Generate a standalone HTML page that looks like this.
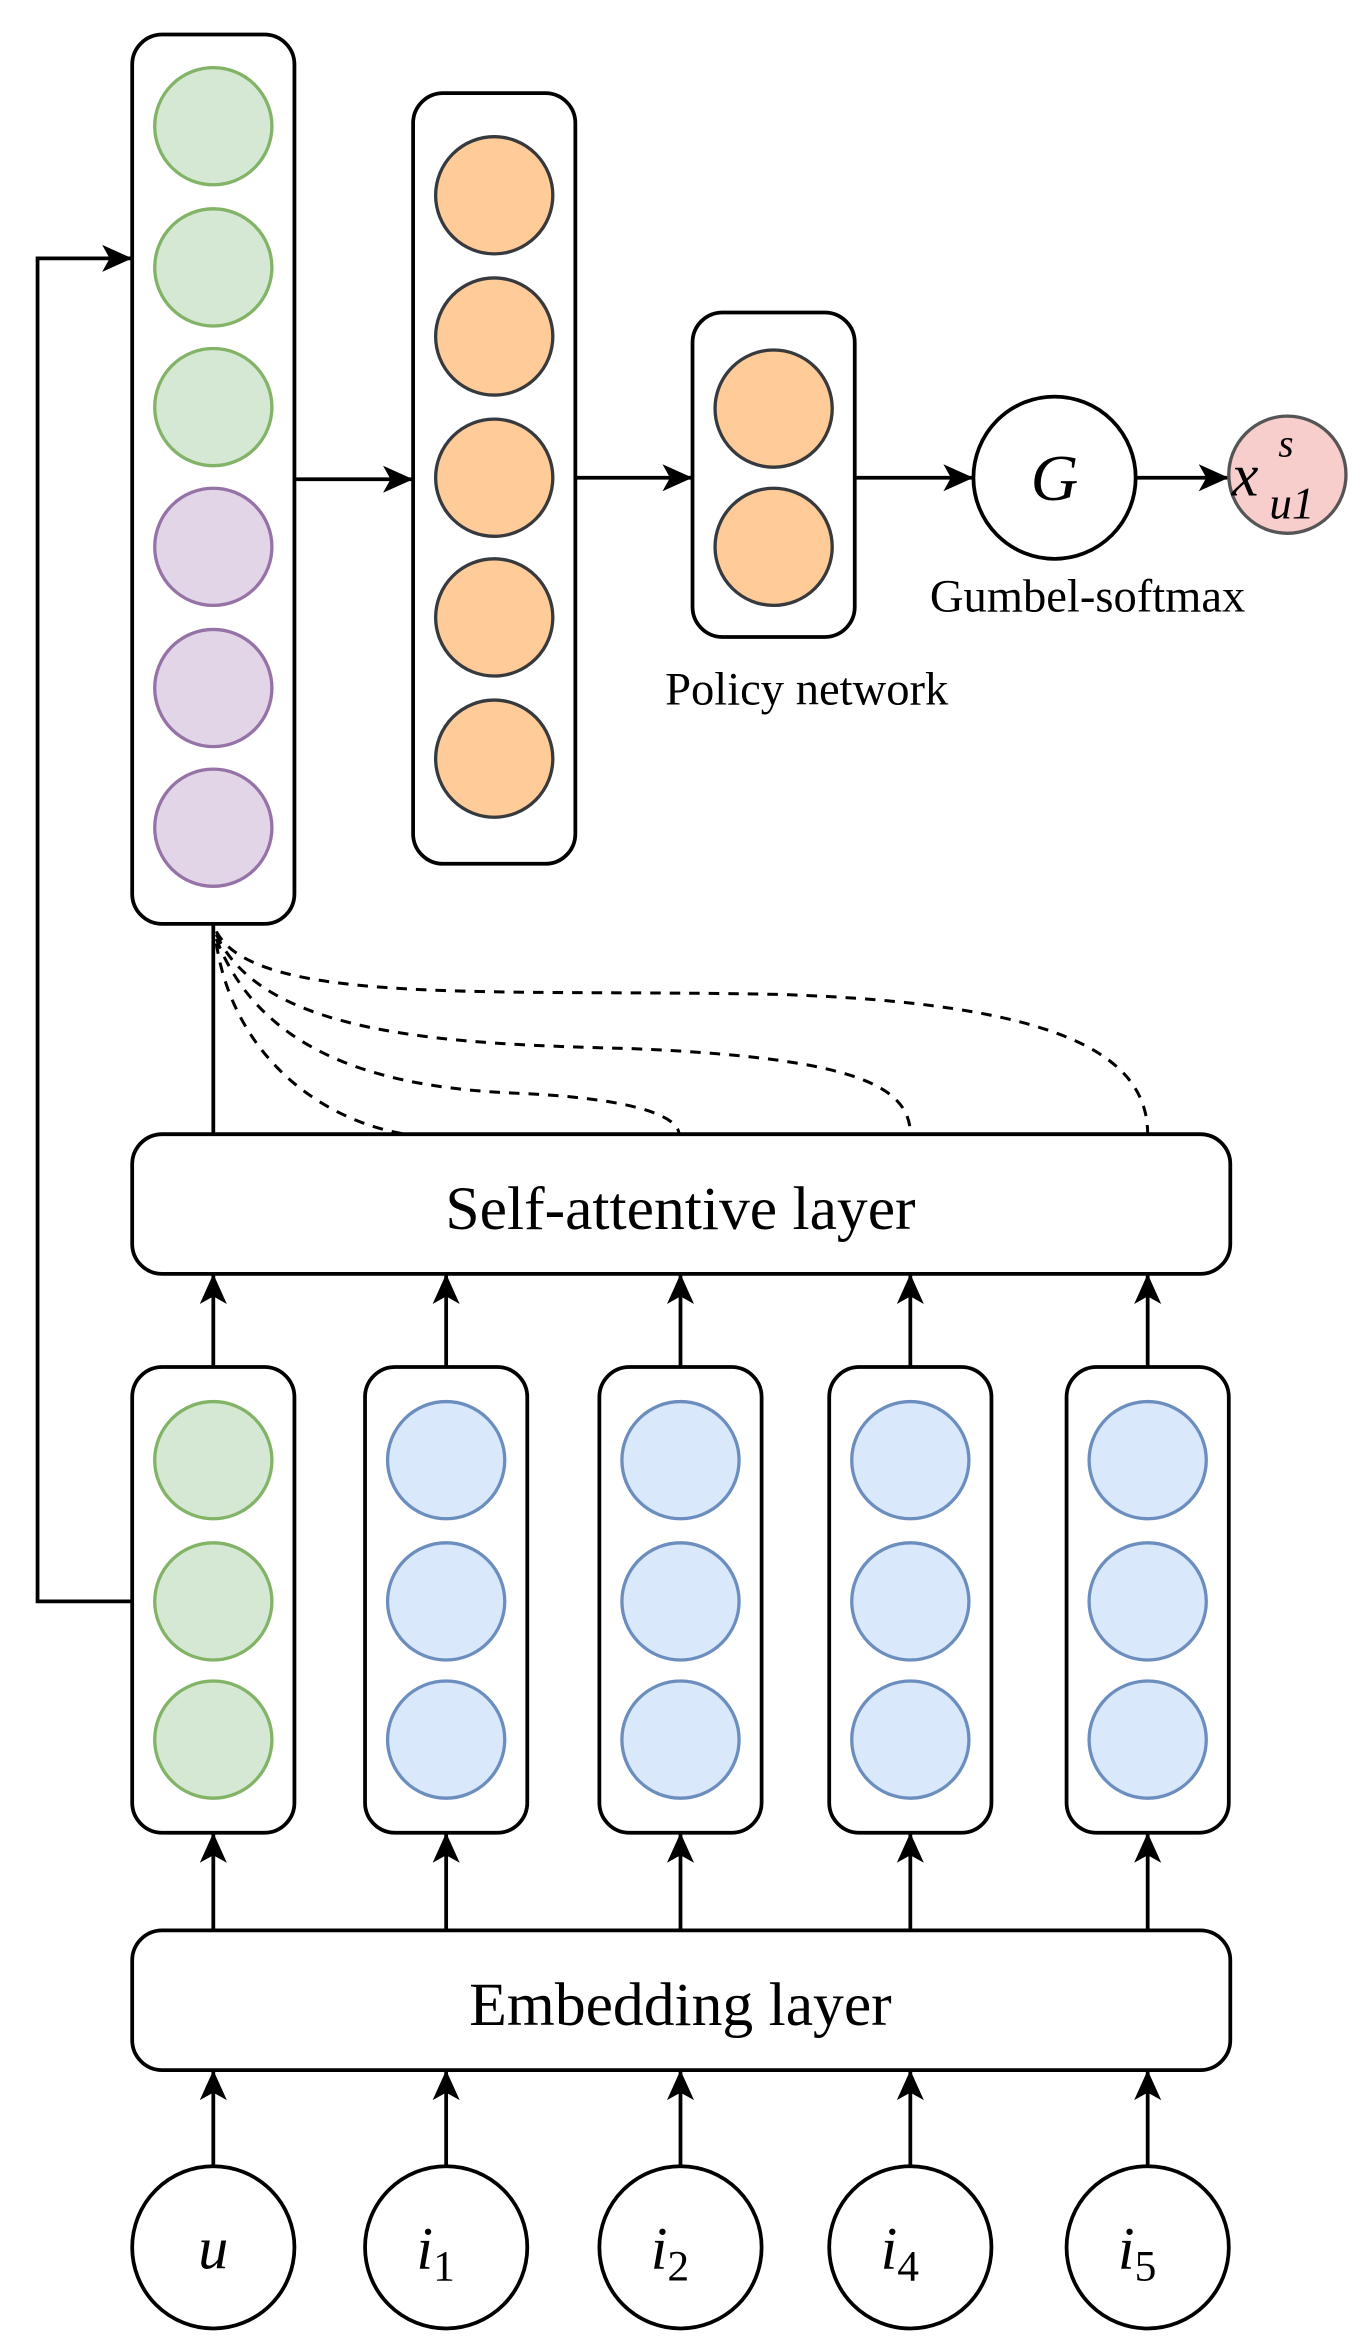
<!DOCTYPE html>
<html><head><meta charset="utf-8"><style>
html,body{margin:0;padding:0;background:#fff;}
svg{display:block;}
text{font-family:"Liberation Serif",serif;fill:#000;}
</style></head><body>
<svg width="1367" height="2351" viewBox="0 0 910 1565" preserveAspectRatio="none" xmlns="http://www.w3.org/2000/svg">
<defs>
<marker id="ah" viewBox="0 0 20 20" refX="19" refY="10" markerWidth="22" markerHeight="20" markerUnits="userSpaceOnUse" orient="auto">
<path d="M0,1 L20,10 L0,19 L5,10 Z" fill="#000"/>
</marker>
</defs>
<g fill="none" stroke="#000" stroke-width="2.5">
<rect x="88" y="23" width="108" height="592" rx="20"/>
<rect x="275" y="62" width="108" height="513" rx="20"/>
<rect x="461" y="208" width="108" height="216" rx="20"/>
<rect x="88" y="755" width="731" height="93" rx="20" fill="#fff"/>
<rect x="88" y="910" width="108" height="310" rx="20"/>
<rect x="243" y="910" width="108" height="310" rx="20"/>
<rect x="399" y="910" width="108" height="310" rx="20"/>
<rect x="552" y="910" width="108" height="310" rx="20"/>
<rect x="710" y="910" width="108" height="310" rx="20"/>
<rect x="88" y="1285" width="731" height="93" rx="20"/>
<path d="M196,319 L274,319" marker-end="url(#ah)"/>
<path d="M383,318 L460,318" marker-end="url(#ah)"/>
<path d="M569,318 L647,318" marker-end="url(#ah)"/>
<path d="M756,318 L817,318" marker-end="url(#ah)"/>
<path d="M88,1066 L25,1066 L25,172 L87,172" marker-end="url(#ah)"/>
<path d="M142,615 L142,755"/>
<g stroke-width="2" stroke-dasharray="7,6">
<path d="M144,620 C170,670 330,658 520,662 C700,668 764,700 764,755"/>
<path d="M144,622 C175,690 300,695 420,698 C560,704 606,720 606,755"/>
<path d="M144,625 C175,705 260,725 350,728 C430,732 452,745 452,755"/>
<path d="M144,628 C155,700 210,745 270,755"/>
</g>
<g>
<path d="M142,910 L142,849" marker-end="url(#ah)"/>
<path d="M297,910 L297,849" marker-end="url(#ah)"/>
<path d="M453,910 L453,849" marker-end="url(#ah)"/>
<path d="M606,910 L606,849" marker-end="url(#ah)"/>
<path d="M764,910 L764,849" marker-end="url(#ah)"/>
<path d="M142,1285 L142,1221" marker-end="url(#ah)"/>
<path d="M297,1285 L297,1221" marker-end="url(#ah)"/>
<path d="M453,1285 L453,1221" marker-end="url(#ah)"/>
<path d="M606,1285 L606,1221" marker-end="url(#ah)"/>
<path d="M764,1285 L764,1221" marker-end="url(#ah)"/>
<path d="M142,1442 L142,1379" marker-end="url(#ah)"/>
<path d="M297,1442 L297,1379" marker-end="url(#ah)"/>
<path d="M453,1442 L453,1379" marker-end="url(#ah)"/>
<path d="M606,1442 L606,1379" marker-end="url(#ah)"/>
<path d="M764,1442 L764,1379" marker-end="url(#ah)"/>
</g>
<circle cx="142" cy="1496" r="54"/>
<circle cx="297" cy="1496" r="54"/>
<circle cx="453" cy="1496" r="54"/>
<circle cx="606" cy="1496" r="54"/>
<circle cx="764" cy="1496" r="54"/>
<circle cx="702" cy="318" r="54"/>
</g>
<g stroke-width="2.2">
<g fill="#d5e8d4" stroke="#82b366">
<circle cx="142" cy="84" r="39"/><circle cx="142" cy="178" r="39"/><circle cx="142" cy="271" r="39"/>
<circle cx="142" cy="972" r="39"/><circle cx="142" cy="1066" r="39"/><circle cx="142" cy="1158" r="39"/>
</g>
<g fill="#e1d5e7" stroke="#9673a6">
<circle cx="142" cy="364" r="39"/><circle cx="142" cy="458" r="39"/><circle cx="142" cy="551" r="39"/>
</g>
<g fill="#ffcc99" stroke="#36393d">
<circle cx="329" cy="130" r="39"/><circle cx="329" cy="224" r="39"/><circle cx="329" cy="318" r="39"/><circle cx="329" cy="411" r="39"/><circle cx="329" cy="505" r="39"/>
<circle cx="515" cy="272" r="39"/><circle cx="515" cy="364" r="39"/>
</g>
<g fill="#dae8fc" stroke="#6c8ebf">
<circle cx="297" cy="972" r="39"/><circle cx="297" cy="1066" r="39"/><circle cx="297" cy="1158" r="39"/>
<circle cx="453" cy="972" r="39"/><circle cx="453" cy="1066" r="39"/><circle cx="453" cy="1158" r="39"/>
<circle cx="606" cy="972" r="39"/><circle cx="606" cy="1066" r="39"/><circle cx="606" cy="1158" r="39"/>
<circle cx="764" cy="972" r="39"/><circle cx="764" cy="1066" r="39"/><circle cx="764" cy="1158" r="39"/>
</g>
<circle cx="857" cy="316" r="39" fill="#f8cecc" stroke="#555"/>
</g>
<text x="702" y="333" font-size="44" font-style="italic" text-anchor="middle">G</text>
<text x="820" y="330" font-size="40" font-style="italic">x</text>
<text x="851" y="304" font-size="26" font-style="italic">s</text>
<text x="845" y="345" font-size="30" font-style="italic">u1</text>
<text x="724" y="407" font-size="31" text-anchor="middle">Gumbel-softmax</text>
<text x="537" y="469" font-size="31" text-anchor="middle">Policy network</text>
<text x="453" y="818" font-size="41" text-anchor="middle">Self-attentive layer</text>
<text x="453" y="1348" font-size="41" text-anchor="middle">Embedding layer</text>
<text x="142" y="1510" font-size="40" font-style="italic" text-anchor="middle">u</text>
<text x="290" y="1510" font-size="40" font-style="italic" text-anchor="middle">i<tspan font-style="normal" font-size="29" dy="8">1</tspan></text>
<text x="446" y="1510" font-size="40" font-style="italic" text-anchor="middle">i<tspan font-style="normal" font-size="29" dy="8">2</tspan></text>
<text x="599" y="1510" font-size="40" font-style="italic" text-anchor="middle">i<tspan font-style="normal" font-size="29" dy="8">4</tspan></text>
<text x="757" y="1510" font-size="40" font-style="italic" text-anchor="middle">i<tspan font-style="normal" font-size="29" dy="8">5</tspan></text>
</svg>
</body></html>
